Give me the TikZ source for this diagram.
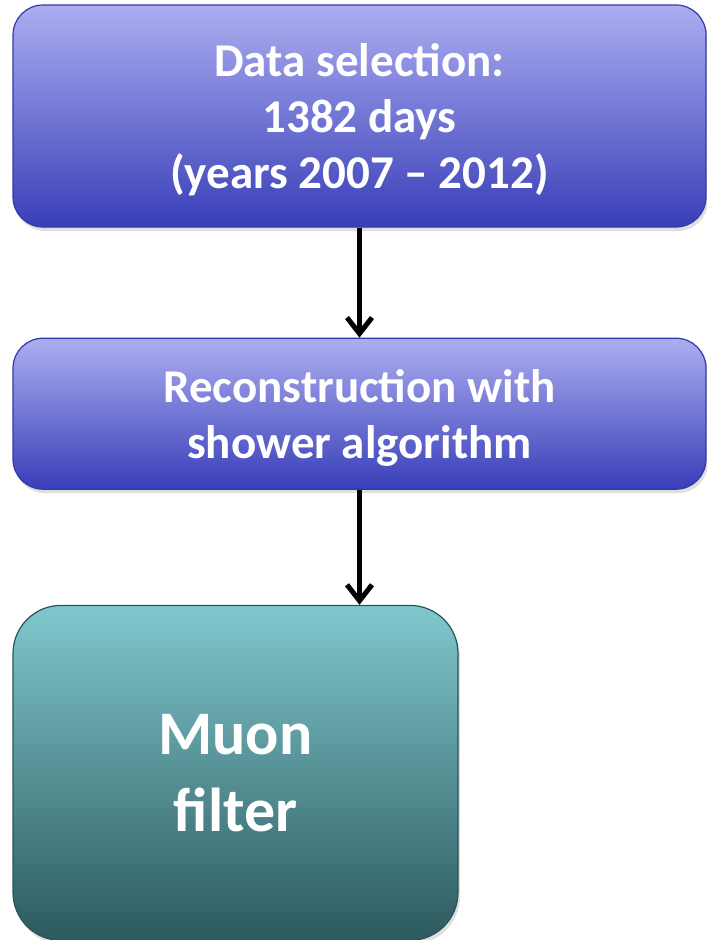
\documentclass[tikz,border=0pt]{standalone}
\usepackage{fontspec}
\setmainfont{Carlito}
\usepackage{tikz}
\usetikzlibrary{arrows.meta,positioning,shadows}
\usepackage{xcolor}
\definecolor{steptop}{RGB}{172,174,240}
\definecolor{stepbot}{RGB}{56,62,184}
\definecolor{stepline}{RGB}{52,56,168}
\definecolor{filtop}{RGB}{128,200,206}
\definecolor{filbot}{RGB}{44,90,94}
\definecolor{filline}{RGB}{40,84,88}
\tikzset{
stepbox/.style={rectangle,rounded corners=30pt,draw=stepline,line width=1.2pt,
  top color=steptop,bottom color=stepbot,text=white,align=center,
  minimum width=693pt,inner sep=0pt,text depth=0pt,
  font=\fontsize{47}{56}\selectfont\bfseries,
  drop shadow={opacity=0.25,shadow xshift=2pt,shadow yshift=-4pt}},
filterbox/.style={rectangle,rounded corners=48pt,draw=filline,line width=1.2pt,
  top color=filtop,bottom color=filbot,text=white,align=center,
  minimum width=445pt,minimum height=335pt,inner sep=0pt,
  font=\fontsize{62}{77}\selectfont\bfseries,
  drop shadow={opacity=0.25,shadow xshift=2pt,shadow yshift=-4pt}},
flowarr/.style={line width=5pt,-{Straight Barb[length=16pt,width=25pt,line width=5pt]}}
}
\begin{document}
\begin{tikzpicture}[x=1pt,y=1pt,node distance=110pt]
\useasboundingbox (0,0) rectangle (707,-940);
\node[stepbox,minimum height=222pt] (sel) at (359.5,-116) {Data selection:\\1382 days\\(years 2007 -- 2012)};
\node[stepbox,minimum height=151pt,below=of sel] (reco) {Reconstruction with\\shower algorithm};
\node[filterbox,below=115pt of reco.south west,anchor=north west] (muon) {Muon\\filter};
\draw[flowarr] (sel) -- (reco);
\draw[flowarr] (reco) -- (reco |- muon.north);
\end{tikzpicture}
\end{document}
